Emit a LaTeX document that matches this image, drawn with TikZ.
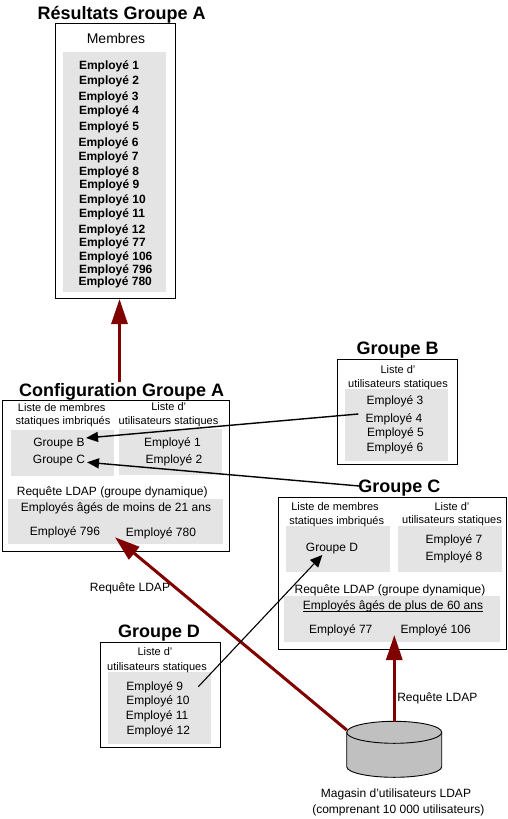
\documentclass[tikz,border=0pt]{standalone}
\usepackage{fontspec}
\setmainfont{Liberation Sans}
\usetikzlibrary{arrows.meta}
\definecolor{panel}{HTML}{E4E4E4}
\definecolor{darkred}{HTML}{800000}
\definecolor{storegray}{HTML}{C0C0C0}
\tikzset{
  x=1pt,y=-1pt,
  frame/.style={draw=black,line width=0.9pt,fill=white},
  panelbox/.style={fill=panel,draw=none},
  txtbase/.style={inner sep=0pt,outer sep=0pt,text height=9.6pt,text depth=1.4pt,text=black},
  body/.style={txtbase,font=\fontsize{12}{14}\selectfont},
  small/.style={txtbase,font=\fontsize{11}{13}\selectfont},
  large/.style={txtbase,font=\fontsize{14}{16}\selectfont},
  emp/.style={txtbase,anchor=west,font=\fontsize{12}{14}\selectfont\bfseries},
  head/.style={inner sep=0pt,outer sep=0pt,text height=13pt,text depth=0pt,font=\fontsize{18}{20}\selectfont\bfseries},
  redarrow/.style={draw=darkred,line width=3pt,-{Triangle[length=25pt,width=16pt,fill=darkred]}},
  blackarrow/.style={draw=black,line width=1.4pt,-{Triangle[length=12pt,width=10pt,fill=black]}},
  thinarrow/.style={draw=black,line width=1.1pt,-{Triangle[length=12pt,width=11pt,fill=black]}},
}
\begin{document}
\begin{tikzpicture}
\useasboundingbox (0,0) rectangle (507,819);
% Résultats
\node[head] (tR) at (121.7,13) {Résultats Groupe A};
\draw[frame] (55.5,23.5) rectangle (175.5,298);
\fill[panelbox] (63,52) rectangle (166,292);
\node[large] (mem) at (116,39) {Membres};
\foreach \n/\y/\xx in {1/65/79,2/80.5/79,3/96/78.5,4/110/79,5/126.5/79,6/142.5/78.5,7/156/78.5,8/171/79,9/184.5/79.3,10/199.5/79,11/213.5/79,12/229/78.5,77/242/79,106/256.5/79,796/269/79,780/281.5/78.5}
  \node[emp] (m\n) at (\xx,\y) {Employé \n};
\coordinate (resbot) at (119.5,299);
% Configuration A
\node[head] (tA) at (121.7,390) {Configuration Groupe A};
\coordinate (cfgtop) at (119.5,382);
\draw[frame] (2.3,400.3) rectangle (229.7,551.3);
\fill[panelbox] (11,430) rectangle (114,475.7);
\fill[panelbox] (119,429) rectangle (222,475);
\fill[panelbox] (8,499) rectangle (223,544);
\node[small] (a1) at (61.7,407) {Liste de membres};
\node[small] (a2) at (63,420) {statiques imbriqués};
\node[small] (a3) at (168.7,406.5) {Liste d'};
\node[small] (a4) at (168.5,420) {utilisateurs statiques};
\node[body] (gB) at (59,442) {Groupe B};
\node[body] (gC) at (59,459) {Groupe C};
\node[body] (a5) at (172.5,442) {Employé 1};
\node[body] (a6) at (174,459) {Employé 2};
\node[body] (a7) at (112.3,491) {Requête LDAP (groupe dynamique)};
\node[body] (a8) at (116,507) {Employés âgés de moins de 21 ans};
\node[body] (a9) at (65,531) {Employé 796};
\node[body] (a10) at (161,532) {Employé 780};
\coordinate (bIn) at (86,438);
\coordinate (cIn) at (87,462.3);
\coordinate (ldapA) at (115,537.3);
% Groupe B
\node[head] (tB) at (397.7,348) {Groupe B};
\draw[frame] (337.3,359.3) rectangle (457.7,464.3);
\fill[panelbox] (345,389.3) rectangle (448,460.7);
\node[small] (b1) at (398,369) {Liste d'};
\node[small] (b2) at (398,383) {utilisateurs statiques};
\node[body] (b3) at (395,400.7) {Employé 3};
\node[body] (b4) at (394,418) {Employé 4};
\node[body] (b5) at (395.5,432) {Employé 5};
\node[body] (b6) at (395,447) {Employé 6};
\coordinate (bOut) at (358.3,414);
% Groupe C
\node[head] (tC) at (399.3,486) {Groupe C};
\coordinate (cOut) at (359.3,486);
\draw[frame] (278,497.7) rectangle (506.3,649.3);
\fill[panelbox] (286,526) rectangle (390,571.7);
\fill[panelbox] (398,526) rectangle (502,571.7);
\fill[panelbox] (284,596) rectangle (500,641.7);
\node[small] (c1) at (335,506.7) {Liste de membres};
\node[small] (c2) at (336.7,520) {statiques imbriqués};
\node[small] (c3) at (452,506) {Liste d'};
\node[small] (c4) at (452,519.5) {utilisateurs statiques};
\node[body] (gD) at (332,547) {Groupe D};
\node[body] (c5) at (454,539) {Employé 7};
\node[body] (c6) at (454,556) {Employé 8};
\node[body] (c7) at (390,589) {Requête LDAP (groupe dynamique)};
\node[body] (c8) at (393,605.7) {Employés âgés de plus de 60 ans};
\draw[line width=0.8pt] ([yshift=-0.5pt]c8.south west) -- ([yshift=-0.5pt]c8.south east);
\node[body] (c9) at (340.7,629) {Employé 77};
\node[body] (c10) at (435.7,629) {Employé 106};
\coordinate (dIn) at (322.3,555);
\coordinate (ldapC) at (394.3,635);
% Groupe D
\node[head] (tD) at (159,631) {Groupe D};
\draw[frame] (100.3,642.3) rectangle (220.3,747.3);
\fill[panelbox] (108,672.3) rectangle (211,743.7);
\node[small] (d1) at (155,651.7) {Liste d'};
\node[small] (d2) at (157,666) {utilisateurs statiques};
\node[body] (d3) at (154.7,686) {Employé 9};
\node[body] (d4) at (158,700.7) {Employé 10};
\node[body] (d5) at (157,715) {Employé 11};
\node[body] (d6) at (158.3,730) {Employé 12};
\coordinate (dOut) at (198.3,686.7);
% Magasin
\draw[black,line width=0.9pt,fill=storegray] (346.7,732.3) -- (346.7,766.7) arc[start angle=180,end angle=360,x radius=47.5,y radius=-10.6] -- (441.7,732.3);
\draw[black,line width=0.9pt,fill=storegray] (394.2,732.3) ellipse[x radius=47.5,y radius=11];
\coordinate (storeA) at (346.7,730);
\coordinate (storeC) at (394.3,721.7);
\node[body] (s1) at (396,793) {Magasin d'utilisateurs LDAP};
\node[body] (s2) at (398.3,809) {(comprenant 10 000 utilisateurs)};
\node[body] (q1) at (437.3,697) {Requête LDAP};
\node[body] (q2) at (130,587) {Requête LDAP};
% connecteurs
\draw[redarrow] (cfgtop) -- (resbot);
\draw[redarrow] (storeA) -- (ldapA);
\draw[redarrow] (storeC) -- (ldapC);
\draw[blackarrow] (bOut) -- (bIn);
\draw[blackarrow] (cOut) -- (cIn);
\draw[thinarrow] (dOut) -- (dIn);
\end{tikzpicture}
\end{document}
